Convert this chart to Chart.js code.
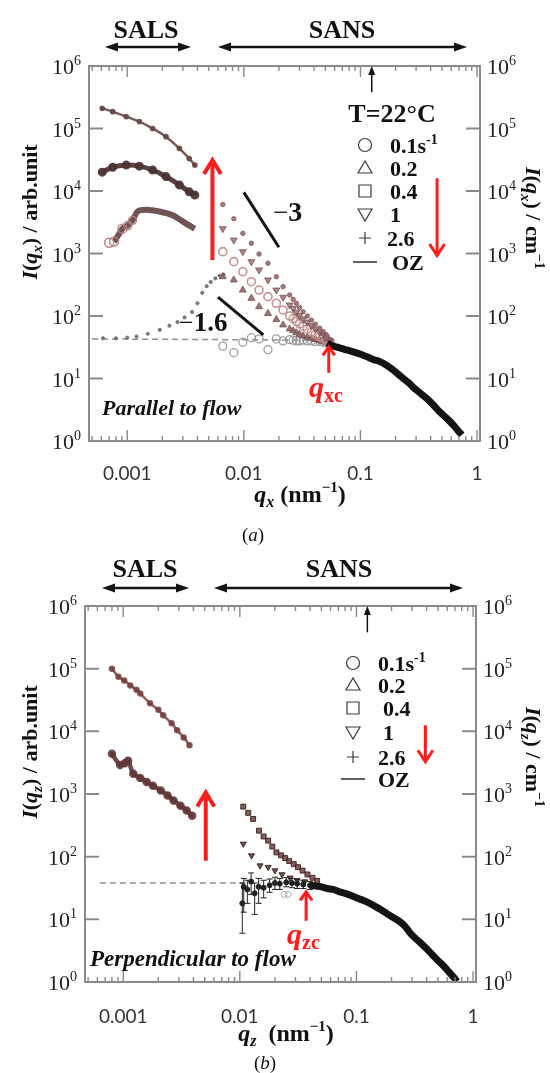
<!DOCTYPE html>
<html>
<head>
<meta charset="utf-8">
<script src="https://cdn.jsdelivr.net/npm/chart.js@4.4.0/dist/chart.umd.min.js"></script>
<style>
  body { margin: 0; background: #fff; width: 550px; height: 1073px; overflow: hidden; position: relative; }
  canvas { position: absolute; left: 0; }
</style>
</head>
<body>
<canvas id="graficoA" width="550" height="545" style="top:0px"></canvas>
<canvas id="graficoB" width="550" height="528" style="top:545px"></canvas>
<script>
// Eixos
const X_MIN = 0.00047, X_MAX = 1.06;
const xTickValues = [0.001, 0.01, 0.1, 1];
const xTickLabels = ['0.001', '0.01', '0.1', '1'];
const yDecadas = [1, 10, 100, 1000, 10000, 100000, 1000000];
const yExpoentes = ['0', '1', '2', '3', '4', '5', '6'];

// ---------- Painel (a): paralelo ao fluxo ----------
const qSalsA = [0.00061, 0.00075, 0.00098, 0.00127, 0.00165, 0.00215, 0.0028, 0.0034, 0.0038];
const iSalsA_topo = [2.1e5, 1.86e5, 1.55e5, 1.29e5, 1.0e5, 7.4e4, 4.8e4, 3.3e4, 2.6e4];
const iSalsA_meio = [2.0e4, 2.4e4, 2.6e4, 2.5e4, 2.17e4, 1.7e4, 1.25e4, 9.7e3, 8.6e3];
const qSalsA_baixo = [0.0007, 0.00077, 0.00091, 0.00101, 0.00111, 0.00123, 0.00145, 0.00188, 0.00245, 0.0032, 0.0038];
const iSalsA_baixo = [1490, 1550, 2500, 2800, 3400, 4700, 5000, 4700, 4100, 3000, 2500];

const qPontilhadoA = [0.00062, 0.0008, 0.001, 0.0012, 0.0015, 0.0019, 0.0023, 0.0027, 0.0031, 0.0036, 0.004, 0.0044, 0.0048, 0.0052, 0.0057, 0.0062, 0.0067];
const iPontilhadoA = [44, 44, 45, 47, 52, 60, 70, 80, 95, 116, 160, 235, 300, 350, 400, 440, 460];

const qSansA = [0.0066, 0.0082, 0.0098, 0.0116, 0.0135, 0.0161, 0.019, 0.0217, 0.0247, 0.0265, 0.0282, 0.030, 0.0322, 0.035, 0.038, 0.041, 0.0448, 0.048, 0.051, 0.055];
const iSansA_26 = [6100, 3600, 2100, 1460, 980, 700, 425, 295, 217, 185, 160, 137, 117, 100, 86, 74, 64, 56, 50, 42];
const iSansA_1 = [2500, 1640, 1070, 740, 545, 377, 260, 200, 150, 132, 115, 102, 90, 80, 70, 62, 55, 50, 45, 40];
const iSansA_04 = [1070, 740, 510, 354, 260, 204, 160, 125, 100, 91, 82, 75, 68, 62, 56, 51, 47, 44, 41, 38];
const iSansA_02 = [425, 377, 260, 192, 141, 110, 88, 72, 62, 58, 54, 51, 48, 46, 44, 42, 40, 39, 38, 37];
const iSansA_01 = [33, 26, 38, 45, 43, 29, 43, 40, 42, 41, 40, 40, 41, 40, 40, 39, 39, 38, 37, 36];

const qAltoA = [0.052, 0.056, 0.062, 0.07, 0.076, 0.085, 0.099, 0.115, 0.13, 0.147, 0.17, 0.191, 0.21, 0.233, 0.26, 0.284, 0.32, 0.37, 0.42, 0.48, 0.55, 0.627, 0.69, 0.74];
const iAltoA = [37, 34, 32, 30, 28.6, 27, 24.7, 22, 20, 18.6, 16, 13.7, 11.8, 10, 8.5, 7.2, 6.0, 4.8, 3.8, 2.9, 2.3, 1.8, 1.45, 1.25];

const qOzA = [0.0005, 0.05];
const iOzA = [43, 41];
const qInclin3 = [0.0100, 0.020];
const iInclin3 = [9500, 1260];
const qInclin16 = [0.006, 0.0147];
const iInclin16 = [200, 50];

// ---------- Painel (b): perpendicular ao fluxo ----------
const qSalsB_topo = [0.0008, 0.00091, 0.00102, 0.00115, 0.0013, 0.0014, 0.0017, 0.002, 0.0022, 0.0026, 0.0029, 0.0033, 0.0037];
const iSalsB_topo = [1.0e5, 7.4e4, 6.5e4, 5.4e4, 4.6e4, 4.0e4, 2.8e4, 2.2e4, 1.8e4, 1.35e4, 1.04e4, 8000, 6000];
const qSalsB_baixo = [0.0008, 0.00094, 0.00103, 0.0011, 0.00122, 0.0014, 0.00159, 0.0018, 0.0021, 0.0024, 0.0027, 0.0031, 0.0035, 0.0039];
const iSalsB_baixo = [4400, 2900, 3100, 3400, 2100, 1800, 1550, 1350, 1140, 950, 790, 650, 545, 450];

const qQuadB = [0.0107, 0.0118, 0.013, 0.0146, 0.016, 0.0175, 0.019, 0.0206, 0.0225, 0.0245, 0.0265, 0.029, 0.0315, 0.0345, 0.038, 0.042, 0.046];
const iQuadB = [630, 500, 400, 260, 210, 180, 145, 117, 105, 95, 85, 76, 68, 60, 52, 46, 41];
const qAmpB = [0.0107, 0.0126, 0.0149, 0.0175, 0.02, 0.023, 0.027, 0.031, 0.036];
const iAmpB = [160, 104, 72, 68, 60, 52, 46, 42, 40];

const qBaixoB = [0.0105, 0.0108, 0.0116, 0.0125, 0.0134, 0.0145, 0.016, 0.018, 0.02, 0.022, 0.025, 0.028, 0.031, 0.035, 0.04];
const iBaixoB = [18, 33, 30, 40, 26, 33, 32, 35, 38, 37, 39, 38, 37, 36, 35];
const erroMinB = [6, 13, 18, 25, 12, 18, 22, 27, 30, 30, 33, 32, 31, 31, 30];
const erroMaxB = [38, 45, 42, 55, 38, 45, 42, 44, 47, 45, 46, 45, 43, 41, 40];

const qAltoB = [0.04, 0.045, 0.05, 0.056, 0.063, 0.07, 0.08, 0.09, 0.1, 0.115, 0.13, 0.15, 0.17, 0.19, 0.21, 0.235, 0.26, 0.29, 0.32, 0.36, 0.4, 0.45, 0.5, 0.56, 0.62, 0.68, 0.73];
const iAltoB = [35, 34, 33, 31, 30, 28, 26, 24, 22, 20, 18, 15.5, 13.5, 11.8, 10.5, 9.2, 7.8, 6.0, 5.0, 4.1, 3.4, 2.7, 2.2, 1.8, 1.45, 1.2, 1.02];
const qCircB = [0.024, 0.026];
const iCircB = [25, 25];
const qOzB = [0.00063, 0.011];
const iOzB = [38, 38];

// ---------- utilidades ----------
const SERIF = "'Liberation Serif', 'Times New Roman', serif";
function fonte(estilo, tam) { return estilo + ' ' + tam + 'px ' + SERIF; }

function pares(q, i) {
  return q.map((v, k) => ({ x: v, y: i[k] }));
}

function pontos(q, i, estilo) {
  return Object.assign({ data: pares(q, i), showLine: false, pointRadius: 3, borderWidth: 1 }, estilo);
}

function linha(q, i, estilo) {
  return Object.assign({ data: pares(q, i), showLine: true, pointRadius: 0, borderWidth: 2, fill: false, tension: 0.3 }, estilo);
}

function textoRico(ctx, partes, x, y, alinhar) {
  let largura = 0;
  partes.forEach(p => { ctx.font = p[1]; largura += ctx.measureText(p[0]).width; });
  let cx = alinhar === 'center' ? x - largura / 2 : (alinhar === 'right' ? x - largura : x);
  ctx.textAlign = 'left';
  ctx.textBaseline = 'alphabetic';
  partes.forEach(p => {
    ctx.font = p[1];
    ctx.fillText(p[0], cx, y + (p[2] || 0));
    cx += ctx.measureText(p[0]).width;
  });
}

function seta(ctx, x1, y1, x2, y2, esp, cab, larg, cor, aberta) {
  const ang = Math.atan2(y2 - y1, x2 - x1);
  const bx = x2 - cab * Math.cos(ang), by = y2 - cab * Math.sin(ang);
  const px = Math.sin(ang) * larg / 2, py = -Math.cos(ang) * larg / 2;
  ctx.strokeStyle = cor; ctx.fillStyle = cor; ctx.lineWidth = esp;
  ctx.lineCap = 'butt';
  ctx.beginPath();
  ctx.moveTo(x1, y1);
  ctx.lineTo(aberta ? x2 - esp * Math.cos(ang) : bx, aberta ? y2 - esp * Math.sin(ang) : by);
  ctx.stroke();
  if (aberta) {
    ctx.lineJoin = 'miter';
    ctx.beginPath();
    ctx.moveTo(bx + px, by + py);
    ctx.lineTo(x2 - esp * 0.5 * Math.cos(ang), y2 - esp * 0.5 * Math.sin(ang));
    ctx.lineTo(bx - px, by - py);
    ctx.stroke();
  } else {
    ctx.beginPath();
    ctx.moveTo(x2, y2);
    ctx.lineTo(bx + px, by + py);
    ctx.lineTo(bx - px, by - py);
    ctx.closePath();
    ctx.fill();
  }
}

function setaDupla(ctx, x1, x2, y) {
  ctx.strokeStyle = '#151515'; ctx.fillStyle = '#151515'; ctx.lineWidth = 2.5;
  ctx.beginPath(); ctx.moveTo(x1 + 10, y); ctx.lineTo(x2 - 10, y); ctx.stroke();
  [[x1, 1], [x2, -1]].forEach(([x, d]) => {
    ctx.beginPath();
    ctx.moveTo(x, y);
    ctx.lineTo(x + d * 13, y - 4.5);
    ctx.lineTo(x + d * 13, y + 4.5);
    ctx.closePath();
    ctx.fill();
  });
}

function simbolo(ctx, tipo, x, y) {
  ctx.strokeStyle = '#3a3a3a'; ctx.lineWidth = 1.2;
  ctx.beginPath();
  if (tipo === 'circ') ctx.arc(x, y, 6.5, 0, Math.PI * 2);
  if (tipo === 'tri') { ctx.moveTo(x, y - 7); ctx.lineTo(x - 7, y + 5); ctx.lineTo(x + 7, y + 5); ctx.closePath(); }
  if (tipo === 'quad') ctx.rect(x - 6, y - 6, 12, 12);
  if (tipo === 'triInv') { ctx.moveTo(x, y + 7); ctx.lineTo(x - 7, y - 5); ctx.lineTo(x + 7, y - 5); ctx.closePath(); }
  if (tipo === 'mais') { ctx.moveTo(x - 6, y); ctx.lineTo(x + 6, y); ctx.moveTo(x, y - 6); ctx.lineTo(x, y + 6); }
  if (tipo === 'traco') { ctx.lineWidth = 1.6; ctx.moveTo(x - 12, y); ctx.lineTo(x + 12, y); }
  ctx.stroke();
}

// ---------- plugin dos extras de cada painel ----------
function pluginPainel(cfg) {
  return {
    id: 'extras' + cfg.nome,
    afterDatasetsDraw(chart) {
      const ctx = chart.ctx, xs = chart.scales.x, ys = chart.scales.y, a = chart.chartArea;
      ctx.save();

      // barras de erro
      if (cfg.erros) {
        ctx.strokeStyle = '#222'; ctx.lineWidth = 1;
        cfg.erros.q.forEach((q, k) => {
          const x = xs.getPixelForValue(q);
          const y1 = ys.getPixelForValue(cfg.erros.lo[k]), y2 = ys.getPixelForValue(cfg.erros.hi[k]);
          ctx.beginPath();
          ctx.moveTo(x, y1); ctx.lineTo(x, y2);
          ctx.moveTo(x - 3, y1); ctx.lineTo(x + 3, y1);
          ctx.moveTo(x - 3, y2); ctx.lineTo(x + 3, y2);
          ctx.stroke();
        });
      }

      // moldura
      ctx.strokeStyle = '#8a8a8a'; ctx.lineWidth = 2;
      ctx.strokeRect(a.left, a.top, a.right - a.left, a.bottom - a.top);

      // marcas do eixo x (para dentro, em cima e em baixo)
      ctx.lineWidth = 1.4;
      for (let e = -4; e <= 0; e++) {
        for (let m = 1; m <= 9; m++) {
          const v = m * Math.pow(10, e);
          if (v < X_MIN || v > X_MAX) continue;
          const x = xs.getPixelForValue(v);
          const comp = m === 1 ? 11 : 5;
          ctx.beginPath();
          ctx.moveTo(x, a.bottom); ctx.lineTo(x, a.bottom - comp);
          ctx.moveTo(x, a.top); ctx.lineTo(x, a.top + comp);
          ctx.stroke();
        }
      }
      // marcas e rotulos do eixo y
      ctx.fillStyle = '#222';
      yDecadas.forEach((v, k) => {
        const y = ys.getPixelForValue(v);
        ctx.strokeStyle = '#8a8a8a'; ctx.lineWidth = 2;
        ctx.beginPath();
        ctx.moveTo(a.left, y); ctx.lineTo(a.left + 14, y);
        ctx.moveTo(a.right, y); ctx.lineTo(a.right - 14, y);
        ctx.stroke();
        const rot = [['10', fonte('', 22)], [yExpoentes[k], fonte('', 14), -9]];
        textoRico(ctx, rot, a.left - 8, y + 8, 'right');
        textoRico(ctx, rot, a.right + 7, y + 8, 'left');
      });

      // setas vermelhas (em coordenadas de dados)
      cfg.setas.forEach(s => {
        seta(ctx, xs.getPixelForValue(s.q), ys.getPixelForValue(s.de), xs.getPixelForValue(s.q), ys.getPixelForValue(s.ate),
          s.esp, s.cab, s.larg, s.cor, s.aberta);
      });

      // texto em coordenadas da pagina
      ctx.translate(0, -cfg.topo);
      ctx.fillStyle = '#111';
      const c = cfg.cabecalho;
      ctx.font = fonte('bold', 26); ctx.textAlign = 'center'; ctx.textBaseline = 'alphabetic';
      ctx.fillText('SALS', c.sals, c.textoY);
      ctx.fillText('SANS', c.sans, c.textoY);
      setaDupla(ctx, c.salsSeta[0], c.salsSeta[1], c.setaY);
      setaDupla(ctx, c.sansSeta[0], c.sansSeta[1], c.setaY);

      // legenda
      const L = cfg.legenda;
      if (L.titulo) { ctx.fillStyle = '#111'; ctx.font = fonte('bold', 26); ctx.textAlign = 'center'; ctx.fillText(L.titulo[0], L.titulo[1], L.titulo[2]); }
      L.linhas.forEach((ln, k) => {
        const y = L.y[k];
        simbolo(ctx, ln[0], L.simX, y);
        ctx.fillStyle = '#111';
        textoRico(ctx, ln[1], L.txtX[k], y + 8, 'left');
      });

      // textos soltos
      cfg.textos.forEach(t => { ctx.fillStyle = t.cor || '#111'; textoRico(ctx, t.partes, t.x, t.y, t.alinhar || 'left'); });

      // titulos dos eixos y (girados)
      cfg.titulosY.forEach(t => {
        ctx.save();
        ctx.translate(t.x, t.y);
        ctx.rotate(t.ang);
        ctx.fillStyle = '#111';
        textoRico(ctx, t.partes, 0, 7, 'center');
        ctx.restore();
      });
      ctx.restore();
    }
  };
}

function criarGrafico(canvasId, cfg, datasets) {
  const ctx = document.getElementById(canvasId).getContext('2d');
  const b = cfg.caixa;
  return new Chart(ctx, {
    type: 'scatter',
    data: { datasets: datasets },
    options: {
      responsive: false,
      animation: false,
      devicePixelRatio: 1,
      layout: { padding: { left: b.left, right: 550 - b.right, top: b.top, bottom: 0 } },
      plugins: { legend: { display: false }, tooltip: { enabled: false } },
      scales: {
        x: {
          type: 'logarithmic', min: X_MIN, max: X_MAX, position: 'bottom',
          grid: { display: false }, border: { display: false },
          afterBuildTicks: (s) => { s.ticks = xTickValues.map(v => ({ value: v })); },
          afterFit: (s) => { s.height = cfg.altura - b.bottom; },
          ticks: {
            autoSkip: false, maxRotation: 0, padding: cfg.xPad, color: '#333',
            font: { family: 'Lato', size: 19 },
            callback: (v) => xTickLabels[xTickValues.indexOf(v)] || ''
          }
        },
        y: { type: 'logarithmic', min: 1, max: 1e6, display: false }
      }
    },
    plugins: [pluginPainel(cfg)]
  });
}

const negrito = fonte('bold', 22), itNeg = fonte('italic bold', 22), subIt = fonte('italic bold', 15);
const VERMELHO = '#ff1c1c';

// ---------- painel (a) ----------
const cfgA = {
  nome: 'A', topo: 0, altura: 545, xPad: 13,
  caixa: { left: 89, right: 480, top: 66, bottom: 441 },
  cabecalho: { sals: 146, sans: 342, textoY: 38, setaY: 47, salsSeta: [105, 191], sansSeta: [218, 467] },
  legenda: {
    titulo: ['T=22°C', 392, 122],
    simX: 365, y: [145, 168, 191, 214, 238, 262], txtX: [390, 390, 390, 390, 387, 392],
    linhas: [
      ['circ', [['0.1s', negrito], ['-1', fonte('bold', 14), -9]]],
      ['tri', [['0.2', negrito]]],
      ['quad', [['0.4', negrito]]],
      ['triInv', [['1', negrito]]],
      ['mais', [['2.6', negrito]]],
      ['traco', [['OZ', negrito]]]
    ]
  },
  setas: [
    { q: 0.00538, de: 787, ate: 3.37e4, esp: 4, cab: 16, larg: 17, cor: VERMELHO, aberta: true },
    { q: 0.454, de: 1.6e4, ate: 880, esp: 3, cab: 13, larg: 15, cor: VERMELHO, aberta: true },
    { q: 0.0535, de: 12.3, ate: 34, esp: 3, cab: 10, larg: 12, cor: VERMELHO, aberta: true },
    { q: 0.125, de: 3.8e5, ate: 1e6, esp: 1.5, cab: 9, larg: 7, cor: '#111', aberta: false }
  ],
  textos: [
    { partes: [['−', fonte('', 27)], ['3', fonte('bold', 28)]], x: 273, y: 221 },
    { partes: [['−', fonte('', 26)], ['1.6', fonte('bold', 27)]], x: 179, y: 331 },
    { partes: [['q', fonte('italic bold', 30)], ['xc', fonte('bold', 20), 5]], x: 309, y: 397, cor: VERMELHO },
    { partes: [['Parallel to flow', fonte('italic bold', 22)]], x: 102, y: 415 },
    { partes: [['q', fonte('italic bold', 24)], ['x', fonte('italic bold', 16), 5], [' (nm', fonte('bold', 24)], ['−1', fonte('bold', 15), -10], [')', fonte('bold', 24)]], x: 300, y: 502, alinhar: 'center' },
    { partes: [['(', fonte('', 19)], ['a', fonte('italic', 19)], [')', fonte('', 19)]], x: 253, y: 541, alinhar: 'center' }
  ],
  titulosY: [
    { x: 30, y: 212, ang: -Math.PI / 2, partes: [['I', itNeg], ['(', negrito], ['q', itNeg], ['x', subIt, 5], [')', negrito], [' / arb.unit', negrito]] },
    { x: 533, y: 218, ang: Math.PI / 2, partes: [['I', itNeg], ['(', negrito], ['q', itNeg], ['x', subIt, 5], [')', negrito], [' / cm', negrito], ['−1', fonte('bold', 14), -9]] }
  ]
};

criarGrafico('graficoA', cfgA, [
  linha(qAltoA, iAltoA, { borderColor: '#141414', borderWidth: 7 }),
  linha(qInclin3, iInclin3, { borderColor: '#151515', borderWidth: 3, tension: 0 }),
  linha(qInclin16, iInclin16, { borderColor: '#151515', borderWidth: 3, tension: 0 }),
  linha(qSalsA, iSalsA_topo, { borderColor: 'rgba(105,70,70,0.9)', borderWidth: 2.5, pointRadius: 1.6, pointBackgroundColor: 'rgba(105,70,70,0.9)' }),
  linha(qSalsA, iSalsA_meio, { borderColor: 'rgba(75,50,50,0.92)', borderWidth: 5, pointRadius: 2, pointBackgroundColor: 'rgba(120,80,80,0.9)' }),
  linha(qSalsA_baixo, iSalsA_baixo, {
    borderColor: 'rgba(95,65,65,0.9)', borderWidth: 6,
    segment: { borderColor: (c) => c.p0DataIndex < 1 ? 'transparent' : undefined },
    pointRadius: [4.5, 4.5, 4.5, 4, 4, 0, 0, 0, 0, 0, 0], pointBackgroundColor: 'rgba(255,255,255,0)',
    pointBorderColor: 'rgba(185,125,125,0.95)', pointBorderWidth: 1.5
  }),
  pontos(qSansA, iSansA_26, { pointRadius: 2.2, backgroundColor: 'rgba(150,100,100,0.85)', borderColor: 'rgba(130,85,85,0.85)' }),
  pontos(qSansA, iSansA_1, { pointStyle: 'triangle', rotation: 180, pointRadius: 4, backgroundColor: 'rgba(150,105,105,0.8)', borderColor: 'rgba(120,80,80,0.8)' }),
  pontos(qSansA, iSansA_04, { pointRadius: 4, backgroundColor: 'rgba(255,255,255,0)', borderColor: 'rgba(195,140,140,0.95)', borderWidth: 1.6 }),
  pontos(qSansA, iSansA_02, { pointStyle: 'triangle', pointRadius: 4, backgroundColor: 'rgba(140,95,95,0.85)', borderColor: 'rgba(120,80,80,0.85)' }),
  pontos(qSansA, iSansA_01, { pointRadius: 4, backgroundColor: 'rgba(255,255,255,0)', borderColor: 'rgba(150,150,150,0.9)', borderWidth: 1.3 }),
  pontos(qPontilhadoA, iPontilhadoA, { pointRadius: 1.6, backgroundColor: 'rgba(110,110,110,0.9)', borderColor: 'rgba(110,110,110,0.9)' }),
  linha(qOzA, iOzA, { borderColor: '#8f8f8f', borderWidth: 1.5, borderDash: [6, 4], tension: 0 })
]);

// ---------- painel (b) ----------
const cfgB = {
  nome: 'B', topo: 545, altura: 528, xPad: 15,
  caixa: { left: 85, right: 476, top: 61, bottom: 437 },
  cabecalho: { sals: 145, sans: 339, textoY: 577, setaY: 588, salsSeta: [102, 189], sansSeta: [214, 463] },
  legenda: {
    titulo: null,
    simX: 353, y: [663, 685, 708, 732, 757, 779], txtX: [378, 378, 383, 383, 378, 378],
    linhas: [
      ['circ', [['0.1s', negrito], ['-1', fonte('bold', 14), -9]]],
      ['tri', [['0.2', negrito]]],
      ['quad', [['0.4', negrito]]],
      ['triInv', [['1', negrito]]],
      ['mais', [['2.6', negrito]]],
      ['traco', [['OZ', negrito]]]
    ]
  },
  erros: { q: qBaixoB, lo: erroMinB, hi: erroMaxB },
  setas: [
    { q: 0.0051, de: 86, ate: 1140, esp: 4, cab: 16, larg: 17, cor: VERMELHO, aberta: true },
    { q: 0.39, de: 1.25e4, ate: 3100, esp: 3, cab: 13, larg: 15, cor: VERMELHO, aberta: true },
    { q: 0.037, de: 9.5, ate: 29, esp: 3, cab: 10, larg: 12, cor: VERMELHO, aberta: true },
    { q: 0.124, de: 3.8e5, ate: 1e6, esp: 1.5, cab: 9, larg: 7, cor: '#111', aberta: false }
  ],
  textos: [
    { partes: [['q', fonte('italic bold', 30)], ['zc', fonte('bold', 20), 5]], x: 287, y: 944, cor: VERMELHO },
    { partes: [['Perpendicular to flow', fonte('italic bold', 23)]], x: 90, y: 966 },
    { partes: [['q', fonte('italic bold', 24)], ['z', fonte('italic bold', 16), 5], ['  (nm', fonte('bold', 24)], ['−1', fonte('bold', 15), -10], [')', fonte('bold', 24)]], x: 286, y: 1041, alinhar: 'center' },
    { partes: [['(', fonte('', 19)], ['b', fonte('italic', 19)], [')', fonte('', 19)]], x: 265, y: 1069, alinhar: 'center' }
  ],
  titulosY: [
    { x: 30, y: 752, ang: -Math.PI / 2, partes: [['I', itNeg], ['(', negrito], ['q', itNeg], ['z', subIt, 5], [')', negrito], [' / arb.unit', negrito]] },
    { x: 533, y: 757, ang: Math.PI / 2, partes: [['I', itNeg], ['(', negrito], ['q', itNeg], ['z', subIt, 5], [')', negrito], [' / cm', negrito], ['−1', fonte('bold', 14), -9]] }
  ]
};

criarGrafico('graficoB', cfgB, [
  linha(qAltoB, iAltoB, { borderColor: '#141414', borderWidth: 7 }),
  pontos(qBaixoB, iBaixoB, { pointRadius: 2.5, backgroundColor: '#222', borderColor: '#222' }),
  pontos(qQuadB, iQuadB, { pointStyle: 'rect', pointRadius: 3.5, backgroundColor: 'rgba(110,65,65,0.85)', borderColor: 'rgba(60,30,30,0.9)' }),
  pontos(qAmpB, iAmpB, { pointStyle: 'triangle', rotation: 180, pointRadius: 3.5, backgroundColor: 'rgba(90,55,55,0.85)', borderColor: 'rgba(60,30,30,0.9)' }),
  pontos(qCircB, iCircB, { pointRadius: 3, backgroundColor: 'rgba(255,255,255,0)', borderColor: '#aaa' }),
  linha(qSalsB_topo, iSalsB_topo, { borderColor: 'rgba(120,65,65,0.85)', borderWidth: 2.5, pointRadius: 2, pointBackgroundColor: 'rgba(120,65,65,0.85)' }),
  linha(qSalsB_baixo, iSalsB_baixo, { borderColor: 'rgba(95,55,55,0.9)', borderWidth: 4.5, pointRadius: 2, pointBackgroundColor: 'rgba(110,60,60,0.9)' }),
  linha(qOzB, iOzB, { borderColor: '#8f8f8f', borderWidth: 1.5, borderDash: [6, 4], tension: 0 })
]);
</script>
</body>
</html>
